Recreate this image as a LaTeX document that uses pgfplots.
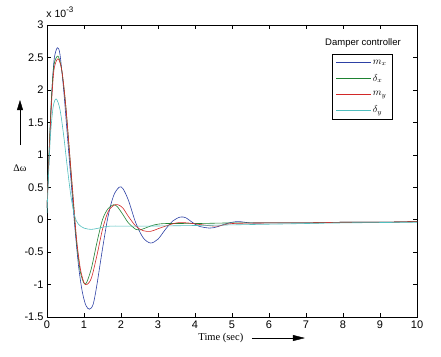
\documentclass[border=0pt]{standalone}
\usepackage{pgfplots}
\pgfplotsset{compat=1.18}
\usepackage{fontspec}
\setmainfont{Liberation Sans}
\newfontfamily\timesf{Liberation Serif}
\usetikzlibrary{arrows.meta}
\definecolor{cblue}{RGB}{45,65,165}
\definecolor{cgreen}{RGB}{30,130,50}
\definecolor{cred}{RGB}{210,40,40}
\definecolor{ccyan}{RGB}{80,190,190}
\begin{document}
\begin{tikzpicture}
\begin{axis}[
  scale only axis, width=370pt, height=292pt,
  xmin=0, xmax=10, ymin=-1.5, ymax=3,
  xtick={0,1,...,10},
  ytick={-1.5,-1,-0.5,0,0.5,1,1.5,2,2.5,3},
  yticklabels={-1.5,-1,-0.5,0,0.5,1,1.5,2,2.5,3},
  tick align=inside, major tick length=4pt,
  tick style={black, thin},
  axis line style={black, thin},
  ticklabel style={font=\fontsize{11}{12}\selectfont},
  /pgf/number format/assume math mode=true,
  every axis plot/.append style={line width=0.6pt, smooth, tension=0.5},
  legend style={at={(rel axis cs:0.77,0.90)}, anchor=north west,
    draw=black, thin, font=\fontsize{10}{11}\selectfont, row sep=4.6pt,
    inner xsep=4pt, inner ysep=3.5pt},
  legend cell align=left,
  legend image code/.code={\draw[#1] (0cm,0cm) -- (1.2cm,0cm);},
  clip mode=individual,
]
\addplot[cblue] coordinates {
(0,0.18)(0.05,0.9)(0.1,1.6)(0.15,2.15)(0.2,2.5)(0.28,2.65)(0.35,2.55)(0.45,2.0)(0.55,1.3)(0.65,0.6)(0.75,-0.1)(0.85,-0.7)(0.95,-1.1)(1.05,-1.32)(1.15,-1.38)(1.25,-1.3)(1.35,-1.0)(1.5,-0.45)(1.65,0.05)(1.8,0.37)(1.95,0.5)(2.05,0.48)(2.2,0.3)(2.4,-0.05)(2.6,-0.28)(2.8,-0.36)(3.0,-0.3)(3.2,-0.15)(3.4,-0.02)(3.6,0.04)(3.75,0.03)(3.9,-0.03)(4.1,-0.1)(4.4,-0.13)(4.6,-0.11)(4.8,-0.07)(5.0,-0.04)(5.2,-0.03)(5.5,-0.05)(6,-0.05)(7,-0.05)(8,-0.04)(9,-0.04)(10,-0.03)};
\addlegendentry{$m_x$\hspace{6pt}}
\addplot[cgreen] coordinates {
(0,0.18)(0.05,0.95)(0.1,1.65)(0.15,2.15)(0.2,2.42)(0.3,2.52)(0.4,2.3)(0.5,1.8)(0.6,1.1)(0.7,0.35)(0.8,-0.35)(0.9,-0.8)(1.0,-0.98)(1.07,-0.97)(1.2,-0.75)(1.35,-0.35)(1.5,0.0)(1.65,0.17)(1.8,0.23)(1.9,0.2)(2.05,0.08)(2.2,-0.05)(2.4,-0.15)(2.5,-0.16)(2.7,-0.12)(2.9,-0.08)(3.2,-0.06)(4,-0.06)(5,-0.05)(6,-0.05)(7,-0.05)(8,-0.04)(9,-0.04)(10,-0.03)};
\addlegendentry{$\delta_x$}
\addplot[cred] coordinates {
(0,0.18)(0.05,0.9)(0.1,1.55)(0.15,2.05)(0.2,2.35)(0.3,2.48)(0.4,2.3)(0.5,1.8)(0.6,1.1)(0.7,0.4)(0.8,-0.3)(0.9,-0.75)(1.0,-0.97)(1.08,-1.0)(1.2,-0.9)(1.35,-0.55)(1.5,-0.15)(1.65,0.12)(1.8,0.22)(1.92,0.23)(2.05,0.18)(2.2,0.05)(2.4,-0.1)(2.6,-0.17)(2.8,-0.18)(3.0,-0.14)(3.2,-0.1)(3.5,-0.05)(3.8,-0.05)(4.2,-0.08)(4.6,-0.1)(5,-0.06)(6,-0.05)(7,-0.05)(8,-0.04)(9,-0.04)(10,-0.03)};
\addlegendentry{$m_y$}
\addplot[ccyan] coordinates {
(0,0.1)(0.05,0.8)(0.1,1.35)(0.17,1.75)(0.25,1.86)(0.35,1.7)(0.45,1.3)(0.55,0.8)(0.65,0.35)(0.75,0.05)(0.85,-0.07)(1.0,-0.13)(1.2,-0.15)(1.4,-0.13)(1.7,-0.1)(2.5,-0.1)(4,-0.09)(6,-0.07)(8,-0.05)(10,-0.04)};
\addlegendentry{$\delta_y$}
\node[font=\fontsize{9.5}{11}\selectfont] at (rel axis cs:0.854,0.938) {Damper controller};
\node[font=\fontsize{10.5}{11}\selectfont] at (rel axis cs:0.035,1.045) {x 10\raisebox{0.9ex}{\fontsize{8}{9}\selectfont -3}};
\node[font=\timesf\fontsize{10}{11}\selectfont] at (rel axis cs:-0.073,0.51) {Δω};
\draw[-{Triangle[length=10pt,width=6pt]}, thin] (rel axis cs:-0.073,0.589) -- (rel axis cs:-0.073,0.743);
\node[font=\timesf\fontsize{10.5}{11}\selectfont] at (rel axis cs:0.47,-0.072) {Time (sec)};
\draw[-{Triangle[length=12pt,width=6pt]}, thin] (rel axis cs:0.554,-0.072) -- (rel axis cs:0.697,-0.072);
\end{axis}
\pgfresetboundingbox
\path[use as bounding box] (current axis.south west) ++(-47pt,-40pt) rectangle ([xshift=24pt,yshift=25pt]current axis.north east);
\end{tikzpicture}
\end{document}
